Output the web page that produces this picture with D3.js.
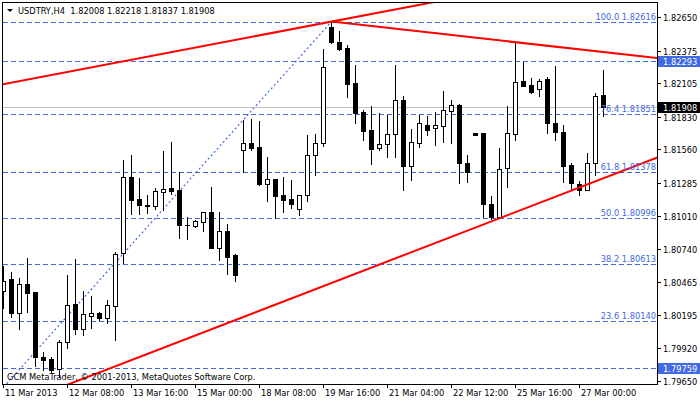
<!DOCTYPE html>
<html>
<head>
<meta charset="utf-8">
<script src="https://cdn.jsdelivr.net/npm/d3@7"></script>
<style>
body { margin: 0; background: #fff; }
svg { display: block; font-family: "DejaVu Sans Condensed", "Liberation Sans", Arial, sans-serif; font-size: 9.2px; }
</style>
</head>
<body>
<div id="chart"></div>
<script>
// USDTRY H4 candles, one value per bar
var openP = [1.80389, 1.80490, 1.80212, 1.80446, 1.80380, 1.79844, 1.79827, 1.79747, 1.79967, 1.80281,
    1.80075, 1.80187, 1.80209, 1.80166, 1.80270, 1.80702, 1.81332, 1.81151, 1.81099, 1.81095,
    1.81211, 1.81242, 1.81225, 1.80934, 1.80928, 1.80963, 1.81041, 1.80749, 1.80884, 1.80688,
    1.81558, 1.81613, 1.81580, 1.81277, 1.81313, 1.81184, 1.81151, 1.81066, 1.81186, 1.81512,
    1.81616, 1.82569, 1.82447, 1.82398, 1.82109, 1.81867, 1.81721, 1.81574, 1.81602, 1.81685,
    1.81968, 1.81426, 1.81616, 1.81762, 1.81735, 1.81756, 1.81880, 1.81925, 1.81448, 1.81692,
    1.81693, 1.81107, 1.81005, 1.81404, 1.81688, 1.82125, 1.82090, 1.82057, 1.82139, 1.81776,
    1.81702, 1.81432, 1.81272, 1.81225, 1.81446, 1.82008];
var highP = [1.80600, 1.80545, 1.80501, 1.80666, 1.80385, 1.79885, 1.79849, 1.79986, 1.80523, 1.80655,
    1.80391, 1.80352, 1.80215, 1.80317, 1.80711, 1.81473, 1.81514, 1.81324, 1.81184, 1.81239,
    1.81547, 1.81621, 1.81371, 1.81002, 1.80977, 1.81043, 1.81247, 1.81041, 1.80944, 1.80697,
    1.81803, 1.81811, 1.81795, 1.81498, 1.81315, 1.81332, 1.81310, 1.81183, 1.81679, 1.81688,
    1.82389, 1.82616, 1.82538, 1.82422, 1.82257, 1.81886, 1.81919, 1.81858, 1.81842, 1.82257,
    1.81999, 1.81729, 1.81842, 1.81836, 1.81869, 1.82045, 1.81968, 1.81935, 1.81514, 1.81696,
    1.81695, 1.81176, 1.81569, 1.81919, 1.82436, 1.82285, 1.82147, 1.82144, 1.82161, 1.82249,
    1.81762, 1.81446, 1.81299, 1.81528, 1.82024, 1.82218];
var lowP = [1.80253, 1.80179, 1.80075, 1.80215, 1.79772, 1.79736, 1.79718, 1.79681, 1.79923, 1.80034,
    1.80028, 1.80088, 1.80152, 1.80129, 1.79986, 1.80620, 1.81027, 1.81027, 1.81038, 1.81068,
    1.81060, 1.81192, 1.80831, 1.80823, 1.80920, 1.80889, 1.80749, 1.80647, 1.80534, 1.80476,
    1.81374, 1.81555, 1.81266, 1.81137, 1.80991, 1.81046, 1.81079, 1.81019, 1.81137, 1.81351,
    1.81591, 1.82439, 1.82381, 1.81996, 1.81781, 1.81640, 1.81442, 1.81555, 1.81500, 1.81500,
    1.81225, 1.81308, 1.81583, 1.81679, 1.81597, 1.81619, 1.81616, 1.81280, 1.81294, 1.81679,
    1.81005, 1.80983, 1.81003, 1.81252, 1.81638, 1.82084, 1.82029, 1.82001, 1.81696, 1.81638,
    1.81294, 1.81231, 1.81184, 1.81223, 1.81349, 1.81837];
var closeP = [1.80476, 1.80212, 1.80446, 1.80377, 1.79844, 1.79821, 1.79735, 1.79967, 1.80273, 1.80075,
    1.80199, 1.80209, 1.80166, 1.80275, 1.80694, 1.81335, 1.81143, 1.81104, 1.81097, 1.81217,
    1.81231, 1.81219, 1.80936, 1.80936, 1.80969, 1.81041, 1.80749, 1.80884, 1.80674, 1.80526,
    1.81611, 1.81574, 1.81277, 1.81313, 1.81178, 1.81145, 1.81112, 1.81181, 1.81512, 1.81611,
    1.82238, 1.82450, 1.82392, 1.82100, 1.81861, 1.81715, 1.81566, 1.81602, 1.81685, 1.81968,
    1.81426, 1.81619, 1.81776, 1.81721, 1.81762, 1.81886, 1.81925, 1.81446, 1.81371, 1.81683,
    1.81107, 1.81005, 1.81396, 1.81693, 1.82117, 1.82086, 1.82037, 1.82125, 1.81781, 1.81707,
    1.81426, 1.81280, 1.81225, 1.81446, 1.82001, 1.81908];

// time axis: bar index of each label
var dateBars = [0, 8, 16, 24, 32, 40, 48, 56, 64, 72];
var dateLabels = ["11 Mar 2013", "12 Mar 08:00", "13 Mar 16:00", "15 Mar 00:00", "18 Mar 08:00",
    "19 Mar 16:00", "21 Mar 04:00", "22 Mar 12:00", "25 Mar 16:00", "27 Mar 00:00"];
var priceTicks = [1.82650, 1.82375, 1.82105, 1.81830, 1.81560, 1.81285, 1.81010,
    1.80740, 1.80465, 1.80195, 1.79920, 1.79650];

// fibonacci retracement
var fibNames = ["100.0", "76.4", "61.8", "50.0", "38.2", "23.6"];
var fibPrices = [1.82616, 1.81851, 1.81378, 1.80996, 1.80613, 1.80140];
var fibAnchor = [[-3, 1.79376], [41, 1.82616]];

// horizontal lines and bid
var hLines = [1.82293, 1.79759];
var bid = 1.81908;

// trend lines, two anchor points each [bar, price]
var trendTop = [[-0.44, 1.82094], [41, 1.82616]];
var trendDown = [[41, 1.82616], [81.7, 1.82315]];
var trendLow = [[29.56, 1.80166], [81.65, 1.81492]];

var title = "USDTRY,H4  1.82008 1.82218 1.81837 1.81908";
var copyright = "GCM MetaTrader, \u00a9 2001-2013, MetaQuotes Software Corp.";

var W = 700, H = 402;
var pL = 3, pR = 657, pT = 3, pB = 384;
var blue = "#4169E1";

var svg = d3.select("#chart").append("svg")
    .attr("width", W)
    .attr("height", H);

var x = d3.scaleLinear().domain([0, 81.75]).range([pL, pR]);
var y = d3.scaleLinear().domain([1.79623, 1.82778]).range([pB, 2]);
var row = function (p) { return Math.round(y(p)); };
var col = function (i) { return Math.round(x(i)); };

svg.append("defs").append("clipPath").attr("id", "plotclip")
    .append("rect")
    .attr("x", pL).attr("y", pT)
    .attr("width", pR - pL).attr("height", pB - pT);

var plot = svg.append("g").attr("clip-path", "url(#plotclip)");

// dashed levels (fib + horizontal lines)
var levels = fibPrices.concat(hLines);
plot.selectAll("line.level")
    .data(levels)
    .enter().append("line")
    .attr("class", "level")
    .attr("x1", pL).attr("x2", pR)
    .attr("y1", function (d) { return row(d) + 0.5; })
    .attr("y2", function (d) { return row(d) + 0.5; })
    .attr("stroke", blue)
    .attr("stroke-dasharray", "5,3")
    .attr("shape-rendering", "crispEdges");

// fib diagonal
plot.append("line")
    .attr("x1", x(fibAnchor[0][0]) + 0.5).attr("y1", y(fibAnchor[0][1]))
    .attr("x2", x(fibAnchor[1][0]) + 0.5).attr("y2", y(fibAnchor[1][1]))
    .attr("stroke", blue)
    .attr("stroke-width", 1.2)
    .attr("stroke-dasharray", "2,2.5");

// bid line
plot.append("line")
    .attr("x1", pL).attr("x2", pR)
    .attr("y1", row(bid) + 0.5).attr("y2", row(bid) + 0.5)
    .attr("stroke", "#c0c0c0")
    .attr("shape-rendering", "crispEdges");

// candles
var bars = d3.range(openP.length);
var candle = plot.selectAll("g.candle")
    .data(bars)
    .enter().append("g")
    .attr("class", "candle")
    .attr("shape-rendering", "crispEdges");

candle.append("line")
    .attr("x1", function (i) { return col(i) + 0.5; })
    .attr("x2", function (i) { return col(i) + 0.5; })
    .attr("y1", function (i) { return row(highP[i]); })
    .attr("y2", function (i) { return row(lowP[i]) + 1; })
    .attr("stroke", "#000");

candle.each(function (i) {
    var g = d3.select(this);
    var t = row(Math.max(openP[i], closeP[i]));
    var b = row(Math.min(openP[i], closeP[i]));
    var c = col(i);
    if (b - t < 1) {
        g.append("line")
            .attr("x1", c - 2).attr("x2", c + 3)
            .attr("y1", t + 0.5).attr("y2", t + 0.5)
            .attr("stroke", "#000");
    } else if (closeP[i] >= openP[i]) {
        g.append("rect")
            .attr("x", c - 1.5).attr("y", t + 0.5)
            .attr("width", 4).attr("height", b - t)
            .attr("fill", "#fff").attr("stroke", "#000");
    } else {
        g.append("rect")
            .attr("x", c - 2).attr("y", t)
            .attr("width", 5).attr("height", b - t + 1)
            .attr("fill", "#000");
    }
});

// trend lines, extended as rays
function ray(pts, from, to) {
    var s = (pts[1][1] - pts[0][1]) / (pts[1][0] - pts[0][0]);
    return [[from, pts[0][1] + s * (from - pts[0][0])], [to, pts[0][1] + s * (to - pts[0][0])]];
}
var redLines = [ray(trendTop, -5, 100), ray(trendDown, 41, 100), ray(trendLow, -5, 100)];
plot.selectAll("path.trend")
    .data(redLines)
    .enter().append("path")
    .attr("class", "trend")
    .attr("d", d3.line().x(function (d) { return x(d[0]) + 0.5; }).y(function (d) { return y(d[1]); }))
    .attr("stroke", "#ff0000")
    .attr("stroke-width", 2)
    .attr("fill", "none");

// fib level labels
plot.selectAll("text.fib")
    .data(fibPrices)
    .enter().append("text")
    .attr("class", "fib")
    .attr("x", pR - 1)
    .attr("y", function (d) { return row(d) - 2; })
    .attr("text-anchor", "end")
    .attr("fill", blue)
    .text(function (d, k) { return fibNames[k] + " " + d.toFixed(5); });

// frame
svg.append("rect")
    .attr("x", 2.5).attr("y", 2.5)
    .attr("width", pR - 2).attr("height", pB - 2)
    .attr("fill", "none").attr("stroke", "#000")
    .attr("shape-rendering", "crispEdges");

// price axis
var pAxis = svg.append("g");
pAxis.selectAll("line")
    .data(priceTicks)
    .enter().append("line")
    .attr("x1", pR).attr("x2", pR + 4)
    .attr("y1", function (d) { return row(d) + 0.5; })
    .attr("y2", function (d) { return row(d) + 0.5; })
    .attr("stroke", "#000")
    .attr("shape-rendering", "crispEdges");
pAxis.selectAll("text")
    .data(priceTicks)
    .enter().append("text")
    .attr("x", pR + 6)
    .attr("y", function (d) { return row(d) + 0.5; })
    .attr("dy", "0.35em")
    .attr("fill", "#000")
    .text(function (d) { return d.toFixed(5); });

// boxed price labels
var boxes = hLines.map(function (p) { return { p: p, c: blue }; })
    .concat([{ p: bid, c: "#000" }]);
var box = svg.selectAll("g.box")
    .data(boxes)
    .enter().append("g")
    .attr("class", "box");
box.append("rect")
    .attr("x", pR + 1).attr("y", function (d) { return row(d.p) - 5; })
    .attr("width", W - pR - 1).attr("height", 11)
    .attr("fill", function (d) { return d.c; });
box.append("text")
    .attr("x", pR + 6)
    .attr("y", function (d) { return row(d.p) + 0.5; })
    .attr("dy", "0.35em")
    .attr("fill", "#fff")
    .text(function (d) { return d.p.toFixed(5); });

// time axis
var tAxis = svg.append("g");
tAxis.selectAll("line")
    .data(dateBars)
    .enter().append("line")
    .attr("x1", function (i) { return col(i) + 0.5; })
    .attr("x2", function (i) { return col(i) + 0.5; })
    .attr("y1", pB).attr("y2", pB + 4)
    .attr("stroke", "#000")
    .attr("shape-rendering", "crispEdges");
tAxis.selectAll("text")
    .data(dateBars)
    .enter().append("text")
    .attr("x", function (i) { return col(i) + 2; })
    .attr("y", 393)
    .attr("dy", "0.35em")
    .attr("fill", "#000")
    .text(function (i, k) { return dateLabels[k]; });

// header and copyright
svg.append("path")
    .attr("d", "M7,9 L13,9 L10,12 Z")
    .attr("fill", "#000");
svg.append("text")
    .attr("x", 18).attr("y", 11)
    .attr("dy", "0.35em")
    .attr("fill", "#000")
    .style("white-space", "pre")
    .text(title);
svg.append("text")
    .attr("x", 7).attr("y", 377)
    .attr("dy", "0.35em")
    .attr("fill", "#000")
    .text(copyright);
</script>
</body>
</html>
